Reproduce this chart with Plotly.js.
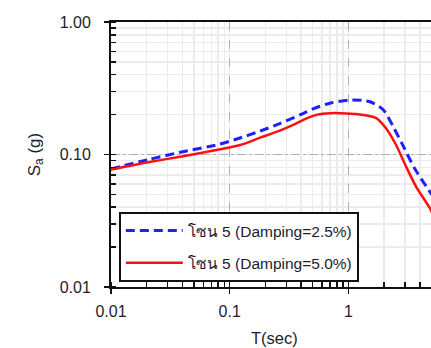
<!DOCTYPE html>
<html><head><meta charset="utf-8">
<script src="https://cdn.plot.ly/plotly-3.0.1.min.js"></script>
<style>html,body{margin:0;padding:0;overflow:hidden;width:431px;height:348px;background:#fff}#chart{width:481px;height:348px}</style>
</head><body><div id="chart"></div>
<script>
// Period T (sec) and spectral acceleration Sa (g)
var periodBlue = [0.01, 0.0211, 0.0404, 0.0775, 0.115, 0.18, 0.267, 0.395, 0.51, 0.708, 1.0, 1.3, 1.54, 1.97, 2.42, 2.95, 3.59, 5.1];
var saBlue     = [0.0777, 0.092, 0.105, 0.118, 0.131, 0.150, 0.172, 0.200, 0.222, 0.245, 0.257, 0.256, 0.249, 0.217, 0.158, 0.112, 0.079, 0.049];
var periodRed  = [0.01, 0.0211, 0.0404, 0.0775, 0.1224, 0.1806, 0.267, 0.346, 0.449, 0.547, 0.708, 0.861, 1.2, 1.7, 2.07, 2.52, 3.06, 3.72, 4.8, 5.1];
var saRed      = [0.077, 0.0878, 0.097, 0.108, 0.118, 0.134, 0.152, 0.168, 0.188, 0.200, 0.205, 0.205, 0.201, 0.189, 0.158, 0.118, 0.081, 0.057, 0.040, 0.036];
var nameBlue = 'โซน 5 (Damping=2.5%)';
var nameRed  = 'โซน 5 (Damping=5.0%)';
var xTitle = 'T(sec)';
var yTitle = 'S<sub>a</sub> (g)';

var traces = [
  {x: periodBlue, y: saBlue, name: nameBlue, mode: 'lines', legendgroup: 'a',
   line: {color: '#1f1fff', width: 3, dash: '9px,5px', shape: 'spline', smoothing: 0.7}},
  {x: periodRed, y: saRed, name: nameRed, mode: 'lines', legendgroup: 'b',
   line: {color: '#ff1010', width: 2.5, shape: 'spline', smoothing: 0.7}}
];

var txtColor = '#1d1d2e';
var fam = 'Liberation Sans, Arial, sans-serif';
var tickFont = {family: fam, size: 16, color: txtColor};
var minorCfg = {dtick: 'D1', ticks: 'inside', ticklen: 5, tickwidth: 1.5, tickcolor: '#111',
                showgrid: true, gridcolor: '#ebebeb', gridwidth: 1.5, griddash: 'solid'};
var layout = {
  width: 481, height: 348,
  margin: {l: 111, r: 15, t: 22, b: 61},
  paper_bgcolor: '#fff', plot_bgcolor: '#fff',
  showlegend: true,
  xaxis: {
    type: 'log', range: [-2, 0.99], dtick: 1,
    showline: true, linecolor: '#111', linewidth: 2, mirror: true,
    ticks: 'outside', ticklen: 5, tickwidth: 1.5, tickcolor: '#111',
    showgrid: true, gridcolor: '#b0b0b0', gridwidth: 1, griddash: 'dash',
    minor: minorCfg,
    tickfont: tickFont, ticklabelstandoff: 4,
    zeroline: false
  },
  yaxis: {
    type: 'log', range: [-2, 0], dtick: 1, tickformat: '.2f',
    showline: true, linecolor: '#111', linewidth: 2, mirror: true,
    ticks: 'outside', ticklen: 5, tickwidth: 1.5, tickcolor: '#111',
    showgrid: true, gridcolor: '#b0b0b0', gridwidth: 1, griddash: 'dashdot',
    minor: minorCfg,
    tickfont: tickFont, ticklabelstandoff: 10,
    zeroline: false,
    title: {text: yTitle, font: {family: fam, size: 17, color: txtColor}, standoff: 15}
  },
  annotations: [
    {text: xTitle, xref: 'paper', yref: 'paper', x: 0.46, y: -0.192, xanchor: 'center', yanchor: 'middle',
     showarrow: false, font: {family: fam, size: 16.5, color: txtColor}}
  ],
  legend: {
    x: 0.022, y: 0.283, xanchor: 'left', yanchor: 'top',
    bgcolor: '#fff', bordercolor: '#111', borderwidth: 2,
    font: {family: fam, size: 15.5, color: txtColor},
    itemwidth: 57, tracegroupgap: 9, traceorder: 'grouped'
  }
};
Plotly.newPlot('chart', traces, layout, {staticPlot: true, displayModeBar: false});
</script>
</body></html>
